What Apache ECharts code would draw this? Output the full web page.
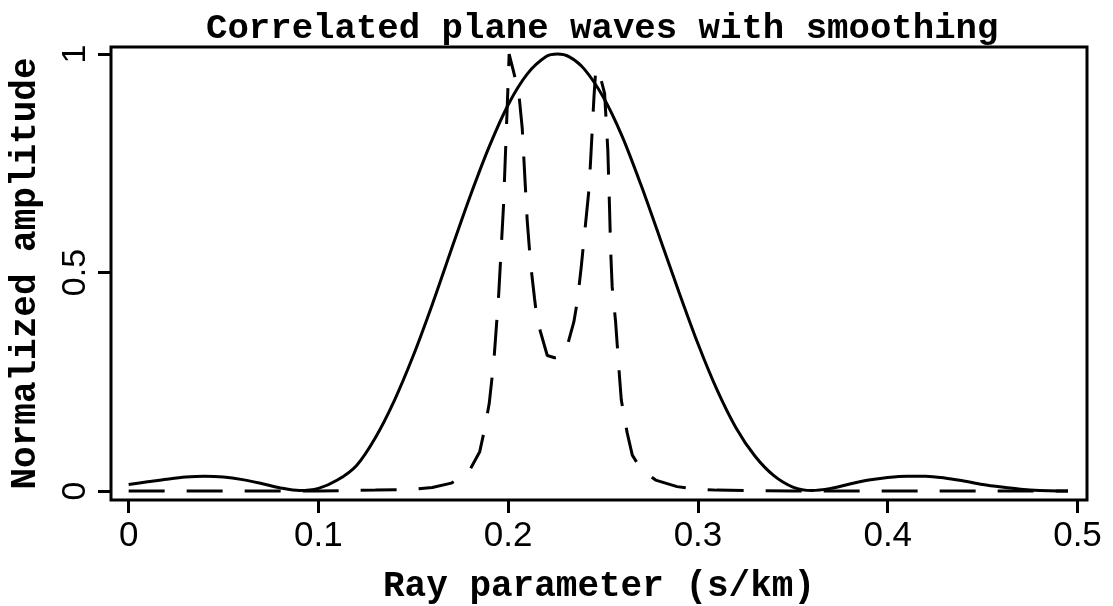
<!DOCTYPE html>
<html lang="en">
  <head>
    <meta charset="UTF-8" />
    <title>Correlated plane waves with smoothing</title>
    <script src="https://cdn.jsdelivr.net/npm/echarts@6/dist/echarts.min.js"></script>
    <style>
      html,
      body {
        width: 100%;
        height: 100%;
        margin: 0;
        padding: 0;
        background: #fff;
      }
    </style>
  </head>
  <body>
    <div id="main" style="width: 1113px; height: 606px"></div>
    <script type="text/javascript">
      // tick values
      var xTicks = [0, 0.1, 0.2, 0.3, 0.4, 0.5];
      var yTicks = [0, 0.5, 1];

      // solid curve (smoothed)
      var solidRay = [
        0, 0.01, 0.02, 0.03, 0.04, 0.05, 0.06, 0.07, 0.08, 0.09, 0.1, 0.11,
        0.12, 0.13, 0.14, 0.15, 0.16, 0.17, 0.18, 0.19, 0.2, 0.21, 0.22, 0.226,
        0.232, 0.24, 0.25, 0.26, 0.27, 0.28, 0.29, 0.3, 0.31, 0.32, 0.33, 0.34,
        0.35, 0.36, 0.37, 0.38, 0.39, 0.4, 0.41, 0.42, 0.43, 0.44, 0.45, 0.46,
        0.47, 0.48, 0.49, 0.495,
      ];
      var solidAmp = [
        0.015, 0.021, 0.027, 0.032, 0.034, 0.032, 0.026, 0.017, 0.007, 0.001,
        0.006, 0.025, 0.058, 0.122, 0.207, 0.31, 0.427, 0.552, 0.675, 0.788,
        0.884, 0.954, 0.994, 1.0, 0.994, 0.966, 0.902, 0.812, 0.7, 0.578,
        0.455, 0.337, 0.232, 0.145, 0.08, 0.035, 0.009, 0.001, 0.006, 0.016,
        0.025, 0.031, 0.034, 0.034, 0.03, 0.023, 0.015, 0.009, 0.004, 0.001, 0,
        0,
      ];

      // dashed curve (two sharp peaks)
      var dashedRay = [
        0, 0.05, 0.1, 0.13, 0.15, 0.16, 0.17, 0.175, 0.18, 0.185, 0.1875, 0.19,
        0.1925, 0.195, 0.1975, 0.1995, 0.2005, 0.2028, 0.2056, 0.2074, 0.209,
        0.21, 0.2118, 0.2139, 0.2153, 0.2206, 0.2245, 0.2285, 0.231, 0.2346,
        0.2364, 0.2385, 0.2427, 0.2452, 0.2462, 0.249, 0.2508, 0.2525, 0.2534,
        0.254, 0.2548, 0.2566, 0.2587, 0.2596, 0.2627, 0.2654, 0.27, 0.2777,
        0.289, 0.3, 0.31, 0.35, 0.4, 0.45, 0.495,
      ];
      var dashedAmp = [
        0, 0, 0, 0.002, 0.004, 0.008, 0.018, 0.03, 0.05, 0.09, 0.14, 0.2, 0.3,
        0.45, 0.65, 0.88, 1.0, 0.96, 0.91, 0.83, 0.7, 0.62, 0.52, 0.44, 0.39,
        0.31, 0.305, 0.309, 0.33, 0.387, 0.433, 0.513, 0.696, 0.902, 0.968,
        0.94, 0.91, 0.78, 0.648, 0.55, 0.467, 0.387, 0.259, 0.208, 0.133,
        0.082, 0.05, 0.025, 0.01, 0.004, 0.002, 0, 0, 0, 0,
      ];

      function pairs(xs, ys) {
        return xs.map(function (x, i) {
          return [x, ys[i]];
        });
      }

      var monoFont = "Liberation Mono";
      var tickFont = "Liberation Sans";

      var myChart = echarts.init(document.getElementById("main"));
      var option = {
        backgroundColor: "#fff",
        animation: false,
        title: {
          text: "Correlated plane waves with smoothing",
          left: 201,
          top: 6,
          textStyle: {
            fontFamily: monoFont,
            fontWeight: "bold",
            fontSize: 35.7,
            color: "#000",
          },
        },
        grid: {
          left: 111,
          right: 26,
          top: 47,
          bottom: 106,
          show: true,
          borderColor: "#000",
          borderWidth: 3,
          outerBoundsMode: "none",
        },
        xAxis: {
          type: "value",
          min: -0.0093,
          max: 0.505,
          name: "Ray parameter (s/km)",
          nameLocation: "middle",
          nameGap: 69,
          nameMoveOverlap: false,
          nameTextStyle: {
            fontFamily: monoFont,
            fontWeight: "bold",
            fontSize: 36,
            color: "#000",
          },
          axisLine: { show: false, onZero: false },
          splitLine: { show: false },
          axisTick: {
            show: true,
            inside: false,
            length: 13,
            customValues: xTicks,
            lineStyle: { color: "#000", width: 3 },
          },
          axisLabel: {
            customValues: xTicks,
            margin: 19,
            fontFamily: tickFont,
            fontSize: 35,
            color: "#000",
            formatter: function (v) {
              return String(v);
            },
          },
        },
        yAxis: {
          type: "value",
          min: -0.0206,
          max: 1.016,
          name: "Normalized amplitude",
          nameLocation: "middle",
          nameGap: 67,
          nameMoveOverlap: false,
          nameTextStyle: {
            fontFamily: monoFont,
            fontWeight: "bold",
            fontSize: 36,
            color: "#000",
          },
          axisLine: { show: false, onZero: false },
          splitLine: { show: false },
          axisTick: {
            show: true,
            inside: false,
            length: 13,
            customValues: yTicks,
            lineStyle: { color: "#000", width: 3 },
          },
          axisLabel: {
            customValues: yTicks,
            rotate: 90,
            margin: 18,
            fontFamily: tickFont,
            fontSize: 34,
            color: "#000",
            formatter: function (v) {
              return String(v);
            },
          },
        },
        series: [
          {
            name: "smoothed",
            type: "line",
            data: pairs(solidRay, solidAmp),
            smooth: 0.3,
            showSymbol: false,
            lineStyle: { color: "#000", width: 3, type: "solid" },
          },
          {
            name: "unsmoothed",
            type: "line",
            data: pairs(dashedRay, dashedAmp),
            showSymbol: false,
            lineStyle: { color: "#000", width: 3, type: [36, 22] },
          },
        ],
      };
      myChart.setOption(option);
    </script>
  </body>
</html>
